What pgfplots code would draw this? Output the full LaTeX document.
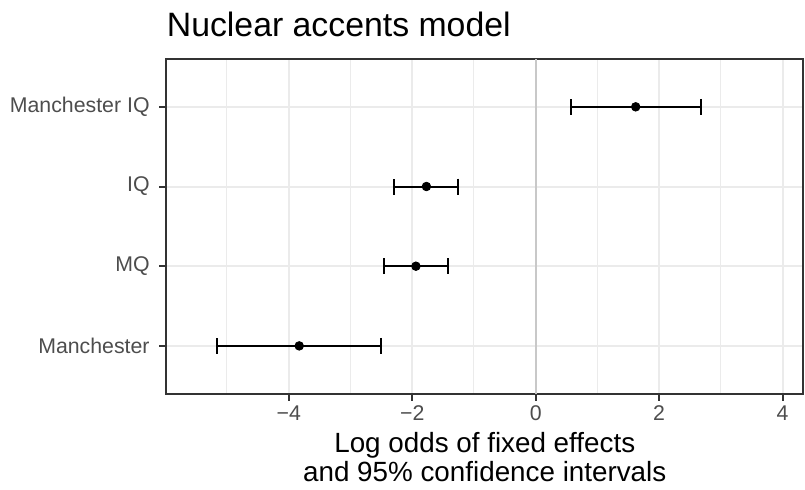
\documentclass[border=0pt]{standalone}
\usepackage{fontspec}
\setmainfont{Liberation Sans}
\usepackage{pgfplots}
\usepackage{pgfplotstable}
\pgfplotsset{compat=1.18}
\definecolor{grey20}{HTML}{333333}
\definecolor{grey30}{HTML}{4D4D4D}
\definecolor{grey92}{HTML}{EBEBEB}
\definecolor{vline}{HTML}{C8C8C8}

% row, estimate, upper and lower half-widths of the 95% CI
\pgfplotstableread{
row est ep em
1 -3.83 1.32 1.33
2 -1.94 0.52 0.51
3 -1.77 0.51 0.52
4 1.62 1.06 1.05
}\effects

\begin{document}
\begin{tikzpicture}
\useasboundingbox (-83.25pt,-47.65pt) rectangle (319.25pt,196.85pt);
\begin{axis}[
    name=ax,
    at={(0,0)}, anchor=south west,
    scale only axis,
    width=318.25pt, height=167.35pt,
    xmin=-5.98, xmax=4.33,
    ymin=0.4, ymax=4.6,
    xtick={-4,-2,0,2,4},
    xticklabels={−4,−2,0,2,4},
    minor xtick={-5,-3,-1,1,3},
    ytick={1,2,3,4},
    yticklabels={Manchester,MQ,IQ,Manchester IQ},
    tick pos=left,
    tick align=outside,
    major tick length=3.5pt,
    minor tick length=0pt,
    major tick style={grey20, line width=1pt},
    grid=both,
    major grid style={grey92, line width=1pt},
    minor grid style={grey92, line width=0.5pt},
    axis line style={grey20, line width=1pt},
    ticklabel style={font=\fontsize{10.65}{12}\selectfont, text=grey30, inner sep=0pt},
    xticklabel style={anchor=base, yshift=-10pt},
    yticklabel style={anchor=east, xshift=-4.75pt},
]
\addplot[vline, line width=1.15pt, forget plot] coordinates {(0,0.4) (0,4.6)};
\addplot[black, only marks, mark=*, mark size=2.15pt,
    error bars/.cd, x dir=both, x explicit,
    error mark=|,
    error bar style={black, line width=1pt},
    error mark options={black, mark size=4pt, line width=1pt}]
    table[x=est, y=row, x error plus=ep, x error minus=em] {\effects};
\end{axis}
\node[anchor=base west, inner sep=0pt, font=\fontsize{16.9}{20}\selectfont, yshift=11.15pt] at (ax.north west) {Nuclear accents model};
\node[anchor=base, inner sep=0pt, font=\fontsize{13.9}{16}\selectfont, yshift=-29.3pt] at (ax.south) {Log odds of fixed effects};
\node[anchor=base, inner sep=0pt, font=\fontsize{13.9}{16}\selectfont, yshift=-43.65pt] at (ax.south) {and 95\% confidence intervals};
\end{tikzpicture}
\end{document}
